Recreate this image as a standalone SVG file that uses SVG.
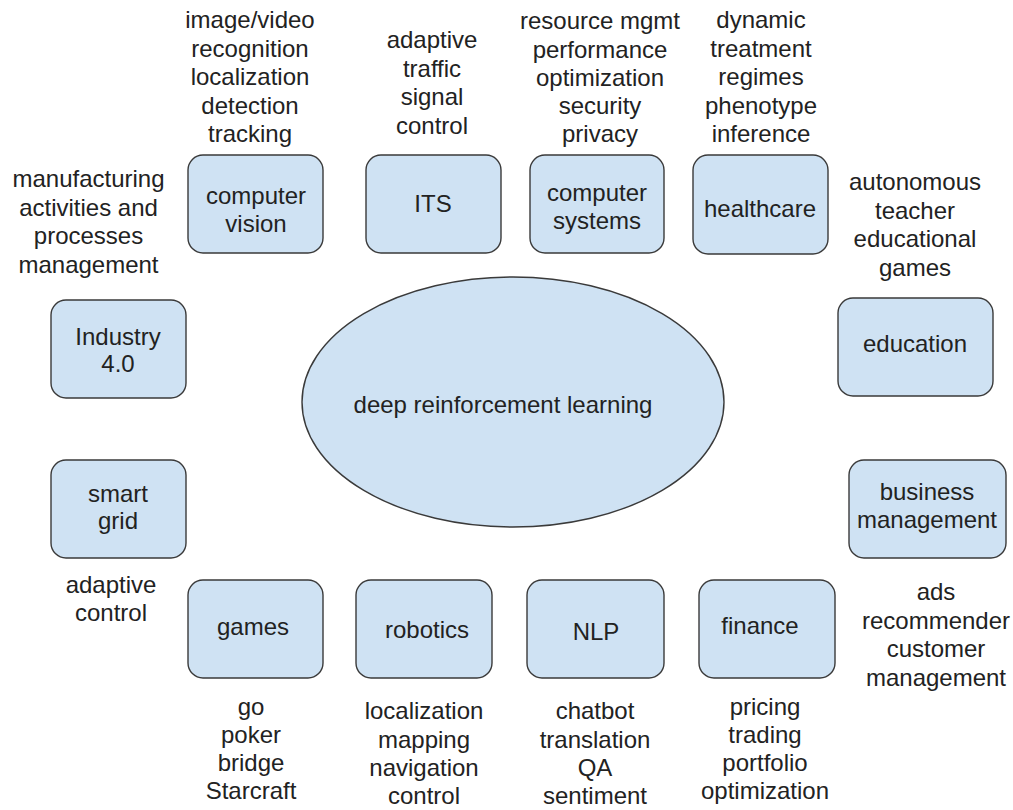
<svg xmlns="http://www.w3.org/2000/svg" width="1013" height="810" viewBox="0 0 1013 810">
<style>
  .box { fill: #cfe2f3; stroke: #3a3a3a; stroke-width: 1.4; }
  text { font-family: "Liberation Sans", Arial, sans-serif; font-size: 24px; fill: #222222; text-anchor: middle; }
</style>
<rect width="1013" height="810" fill="#ffffff"/>
<g id="connectors"></g>

<g id="drl">
  <ellipse class="box" cx="513" cy="402" rx="211" ry="125"/>
  <text x="503" y="413">deep reinforcement learning</text>
</g>

<g id="computer-vision">
  <rect class="box" x="188" y="155" width="135" height="98" rx="15"/>
  <text x="256" y="204">computer</text>
  <text x="256" y="232">vision</text>
</g>
<g id="computer-vision-apps">
  <text x="250" y="28">image/video</text>
  <text x="250" y="56.5">recognition</text>
  <text x="250" y="85">localization</text>
  <text x="250" y="113.5">detection</text>
  <text x="250" y="142">tracking</text>
</g>

<g id="its">
  <rect class="box" x="366" y="155" width="135" height="98" rx="15"/>
  <text x="433" y="212">ITS</text>
</g>
<g id="its-apps">
  <text x="432" y="48">adaptive</text>
  <text x="432" y="76.5">traffic</text>
  <text x="432" y="105">signal</text>
  <text x="432" y="133.5">control</text>
</g>

<g id="computer-systems">
  <rect class="box" x="530" y="155" width="134" height="98" rx="15"/>
  <text x="597" y="201">computer</text>
  <text x="597" y="229">systems</text>
</g>
<g id="computer-systems-apps">
  <text x="600" y="29">resource mgmt</text>
  <text x="600" y="57.5">performance</text>
  <text x="600" y="86">optimization</text>
  <text x="600" y="114">security</text>
  <text x="600" y="142">privacy</text>
</g>

<g id="healthcare">
  <rect class="box" x="693" y="155" width="135" height="99" rx="15"/>
  <text x="760" y="217">healthcare</text>
</g>
<g id="healthcare-apps">
  <text x="761" y="28">dynamic</text>
  <text x="761" y="56.5">treatment</text>
  <text x="761" y="85">regimes</text>
  <text x="761" y="113.5">phenotype</text>
  <text x="761" y="142">inference</text>
</g>

<g id="industry">
  <rect class="box" x="51" y="300" width="135" height="98" rx="15"/>
  <text x="118" y="345">Industry</text>
  <text x="118" y="372">4.0</text>
</g>
<g id="industry-apps">
  <text x="88.5" y="187">manufacturing</text>
  <text x="88.5" y="215.5">activities and</text>
  <text x="88.5" y="244">processes</text>
  <text x="88.5" y="272.5">management</text>
</g>

<g id="education">
  <rect class="box" x="838" y="298" width="155" height="98" rx="15"/>
  <text x="915" y="352">education</text>
</g>
<g id="education-apps">
  <text x="915" y="190">autonomous</text>
  <text x="915" y="218.5">teacher</text>
  <text x="915" y="247">educational</text>
  <text x="915" y="275.5">games</text>
</g>

<g id="smart-grid">
  <rect class="box" x="51" y="460" width="135" height="98" rx="15"/>
  <text x="118" y="502">smart</text>
  <text x="118" y="529">grid</text>
</g>
<g id="smart-grid-apps">
  <text x="111" y="593">adaptive</text>
  <text x="111" y="621">control</text>
</g>

<g id="business-management">
  <rect class="box" x="849" y="460" width="157" height="98" rx="15"/>
  <text x="927" y="500">business</text>
  <text x="927" y="528">management</text>
</g>
<g id="business-management-apps">
  <text x="936" y="600">ads</text>
  <text x="936" y="628.5">recommender</text>
  <text x="936" y="657">customer</text>
  <text x="936" y="685.5">management</text>
</g>

<g id="games">
  <rect class="box" x="188" y="580" width="135" height="98" rx="15"/>
  <text x="253" y="635">games</text>
</g>
<g id="games-apps">
  <text x="251" y="715">go</text>
  <text x="251" y="743">poker</text>
  <text x="251" y="771">bridge</text>
  <text x="251" y="799">Starcraft</text>
</g>

<g id="robotics">
  <rect class="box" x="356" y="580" width="136" height="98" rx="15"/>
  <text x="427" y="638">robotics</text>
</g>
<g id="robotics-apps">
  <text x="424" y="719">localization</text>
  <text x="424" y="747.5">mapping</text>
  <text x="424" y="776">navigation</text>
  <text x="424" y="804">control</text>
</g>

<g id="nlp">
  <rect class="box" x="527" y="580" width="137" height="98" rx="15"/>
  <text x="596" y="640">NLP</text>
</g>
<g id="nlp-apps">
  <text x="595" y="719">chatbot</text>
  <text x="595" y="747.5">translation</text>
  <text x="595" y="776">QA</text>
  <text x="595" y="804">sentiment</text>
</g>

<g id="finance">
  <rect class="box" x="699" y="580" width="136" height="98" rx="15"/>
  <text x="760" y="634">finance</text>
</g>
<g id="finance-apps">
  <text x="765" y="715">pricing</text>
  <text x="765" y="743">trading</text>
  <text x="765" y="771">portfolio</text>
  <text x="765" y="799">optimization</text>
</g>
</svg>
